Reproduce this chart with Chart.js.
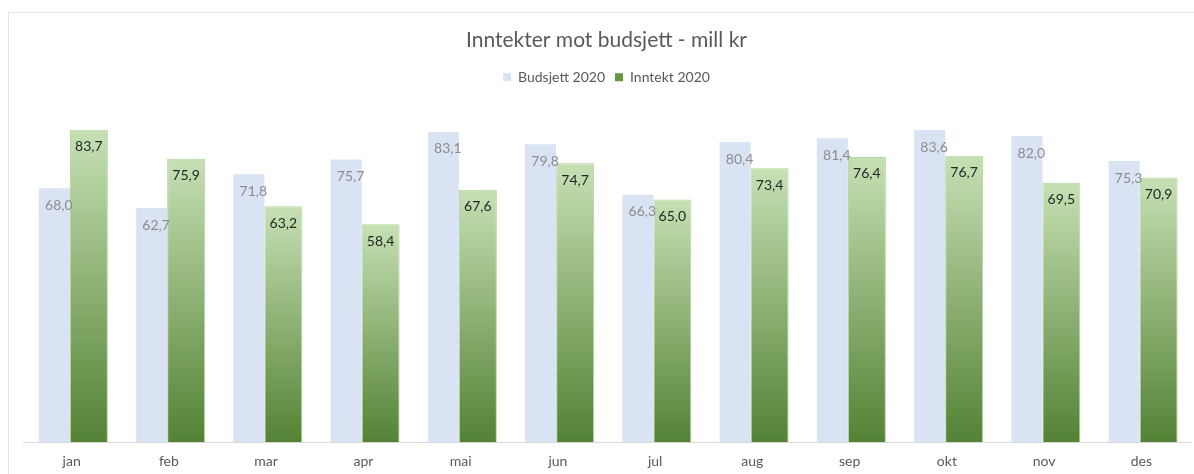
<!DOCTYPE html>
<html>
<head>
<meta charset="utf-8">
<script src="https://cdn.jsdelivr.net/npm/chart.js@4"></script>
<style>
    html, body { margin: 0; padding: 0; background: #fff; }
    #frame {
        position: absolute; left: 8px; top: 12px; width: 1200px; height: 480px;
        border: 1px solid #e3e3e3; box-sizing: border-box;
    }
    #wrap { position: absolute; left: 0; top: 0; width: 1194px; height: 474px; }
</style>
</head>
<body>
<div id="frame"></div>
<div id="wrap"><canvas id="chart"></canvas></div>
<script>
// 데이터
const months = ['jan', 'feb', 'mar', 'apr', 'mai', 'jun', 'jul', 'aug', 'sep', 'okt', 'nov', 'des'];
const budsjett = [68.0, 62.7, 71.8, 75.7, 83.1, 79.8, 66.3, 80.4, 81.4, 83.6, 82.0, 75.3];
const inntekt = [83.7, 75.9, 63.2, 58.4, 67.6, 74.7, 65.0, 73.4, 76.4, 76.7, 69.5, 70.9];

const FONT = 'Lato, "Open Sans", sans-serif';

// 막대마다 그라데이션 (위는 연한 녹색, 아래는 진한 녹색)
function greenGradient(ctx) {
    const chart = ctx.chart;
    const area = chart.chartArea;
    if (!area || ctx.type !== 'data') return '#8fbf6f';
    const y = chart.scales.y;
    const top = y.getPixelForValue(ctx.raw);
    const bottom = y.getPixelForValue(0);
    const g = chart.ctx.createLinearGradient(0, top, 0, bottom);
    g.addColorStop(0, '#c6e0b4');
    g.addColorStop(1, '#548235');
    return g;
}

function fmt(v) {
    return v.toFixed(1).replace('.', ',');
}

// 범례 아래 여백
const legendMargin = {
    id: 'legendMargin',
    beforeInit(chart) {
        const fit = chart.legend.fit;
        chart.legend.fit = function() {
            fit.bind(chart.legend)();
            this.height += 12;
        };
    }
};

// 값 라벨 플러그인
const valueLabels = {
    id: 'valueLabels',
    afterDatasetsDraw(chart) {
        const ctx = chart.ctx;
        const greenMeta = chart.getDatasetMeta(1);
        ctx.save();
        ctx.font = '14px ' + FONT;
        ctx.textAlign = 'center';
        ctx.textBaseline = 'middle';
        chart.data.datasets.forEach((ds, di) => {
            const meta = chart.getDatasetMeta(di);
            meta.data.forEach((bar, i) => {
                let x = bar.x;
                if (di === 0) {
                    const gw = greenMeta.data[i].width;
                    x = bar.x - bar.width / 2 + gw / 2 + 1;
                    ctx.fillStyle = '#8c8c8c';
                } else {
                    ctx.fillStyle = '#262626';
                }
                ctx.fillText(fmt(ds.data[i]), x, bar.y + 17);
            });
        });
        ctx.restore();
    }
};

new Chart(document.getElementById('chart'), {
    type: 'bar',
    data: {
        labels: months,
        datasets: [{
            label: 'Budsjett 2020',
            data: budsjett,
            backgroundColor: '#dae3f3',
            barPercentage: 0.9,
            categoryPercentage: 0.71
        }, {
            label: 'Inntekt 2020',
            data: inntekt,
            backgroundColor: greenGradient,
            borderColor: '#b4d69e',
            borderWidth: 1,
            barPercentage: 1.1,
            categoryPercentage: 0.71
        }]
    },
    options: {
        responsive: true,
        maintainAspectRatio: false,
        animation: false,
        layout: { padding: { left: 23, right: 4, top: 0, bottom: -7 } },
        plugins: {
            title: {
                display: true,
                text: 'Inntekter mot budsjett - mill kr',
                color: '#595959',
                font: { family: FONT, size: 21, weight: 'normal' },
                padding: { top: 28, bottom: 7 }
            },
            legend: {
                display: true,
                labels: {
                    color: '#595959',
                    font: { family: FONT, size: 14 },
                    boxWidth: 8,
                    boxHeight: 8,
                    padding: 10,
                    generateLabels(chart) {
                        return [
                            { text: 'Budsjett 2020', fillStyle: '#dae3f3', strokeStyle: '#dae3f3', lineWidth: 0, datasetIndex: 0, fontColor: '#595959' },
                            { text: 'Inntekt 2020', fillStyle: '#63963f', strokeStyle: '#63963f', lineWidth: 0, datasetIndex: 1, fontColor: '#595959' }
                        ];
                    }
                }
            },
            tooltip: { enabled: false }
        },
        scales: {
            x: {
                grid: { display: false, drawTicks: false },
                border: { color: '#d9d9d9' },
                ticks: {
                    color: '#595959',
                    font: { family: FONT, size: 14 },
                    padding: 11
                }
            },
            y: {
                display: false,
                min: 0,
                max: 90
            }
        }
    },
    plugins: [valueLabels, legendMargin]
});
</script>
</body>
</html>
